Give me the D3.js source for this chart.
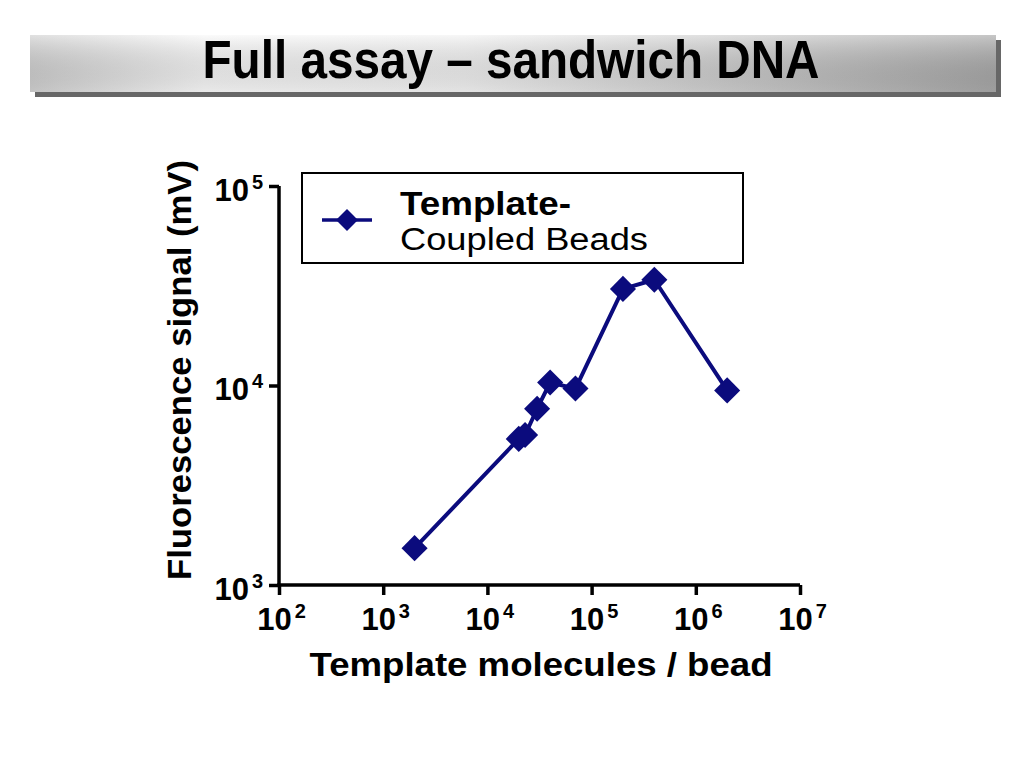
<!DOCTYPE html>
<html>
<head>
<meta charset="utf-8">
<script src="https://cdn.jsdelivr.net/npm/d3@7/dist/d3.min.js"></script>
<style>
html,body{margin:0;padding:0;background:#fff;}
svg{display:block;}
</style>
</head>
<body>
<svg id="chart" width="1024" height="768"></svg>
<script>
const title = "Full assay – sandwich DNA";
const seriesName = ["Template-", "Coupled Beads"];
const xValues = [2000, 20000, 23000, 30000, 40000, 70000, 200000, 400000, 2000000];
const yValues = [1530, 5400, 5650, 7650, 10350, 9650, 30500, 33900, 9450];
const xTicks = [1e2, 1e3, 1e4, 1e5, 1e6, 1e7];
const yTicks = [1e3, 1e4, 1e5];
const xTitle = "Template molecules / bead";
const yTitle = "Fluorescence signal (mV)";

const svg = d3.select("#chart");
const navy = "#0b0b7d";

// title banner
const defs = svg.append("defs");
const g1 = defs.append("linearGradient").attr("id","banner").attr("x1","0").attr("x2","1").attr("y1","0").attr("y2","0");
g1.append("stop").attr("offset","0%").attr("stop-color","#d0d0d0");
g1.append("stop").attr("offset","18%").attr("stop-color","#f8f8f8");
g1.append("stop").attr("offset","45%").attr("stop-color","#f2f2f2");
g1.append("stop").attr("offset","100%").attr("stop-color","#a8a8a8");
const g2 = defs.append("linearGradient").attr("id","bannerV").attr("x1","0").attr("x2","0").attr("y1","0").attr("y2","1");
g2.append("stop").attr("offset","0%").attr("stop-color","#ffffff").attr("stop-opacity",0.35);
g2.append("stop").attr("offset","100%").attr("stop-color","#000000").attr("stop-opacity",0.06);

svg.append("rect").attr("x",35).attr("y",40).attr("width",966).attr("height",57).attr("fill","#676767");
svg.append("rect").attr("x",30).attr("y",35).attr("width",966).attr("height",57).attr("fill","url(#banner)");
svg.append("rect").attr("x",30).attr("y",35).attr("width",966).attr("height",57).attr("fill","url(#bannerV)");
svg.append("text").attr("x",511).attr("y",78).attr("text-anchor","middle")
  .attr("font-family","'Liberation Sans Narrow','Liberation Sans',Arial,sans-serif")
  .attr("font-weight","bold").attr("font-size",53)
  .attr("textLength",617).attr("lengthAdjust","spacingAndGlyphs")
  .attr("fill","#000").text(title);

// scales
const x = d3.scaleLog().domain([1e2,1e7]).range([279,800]);
const y = d3.scaleLog().domain([1e3,1e5]).range([585,186]);

const font = "'Liberation Sans',Arial,sans-serif";

// axes
const xAxis = svg.append("g").attr("transform","translate(0,585)")
  .call(d3.axisBottom(x).tickValues(xTicks).tickSize(10).tickFormat(""));
const yAxis = svg.append("g").attr("transform","translate(279,0)")
  .call(d3.axisLeft(y).tickValues(yTicks).tickSize(10).tickFormat(""));
[xAxis,yAxis].forEach(a=>{
  a.select(".domain").attr("stroke","#000").attr("stroke-width",3.5);
  a.selectAll(".tick line").attr("stroke","#000").attr("stroke-width",3.5);
});
xAxis.select(".domain").attr("d", `M${x(1e2)-1.75},0H${x(1e7)}`);
yAxis.select(".domain").attr("d", `M0,${y(1e5)}V${y(1e3)+1.75}`);

function sup(sel, v){
  const e = Math.round(Math.log10(v));
  sel.append("tspan").text("10");
  sel.append("tspan").attr("font-size",20).attr("dy",-12).attr("dx",3).text(e);
}
xAxis.selectAll(".tick").each(function(d){
  const t = d3.select(this).append("text").attr("x",2).attr("y",45)
    .attr("text-anchor","middle").attr("fill","#000")
    .attr("font-family",font).attr("font-weight","bold").attr("font-size",31);
  sup(t,d);
});
yAxis.selectAll(".tick").each(function(d){
  const t = d3.select(this).append("text").attr("x",-16).attr("y",14)
    .attr("text-anchor","end").attr("fill","#000")
    .attr("font-family",font).attr("font-weight","bold").attr("font-size",31);
  sup(t,d);
});

// axis titles
svg.append("text").attr("x",541).attr("y",676).attr("text-anchor","middle")
  .attr("font-family",font).attr("font-weight","bold").attr("font-size",33)
  .attr("textLength",463).attr("lengthAdjust","spacingAndGlyphs").text(xTitle);
svg.append("text").attr("transform","translate(191,370) rotate(-90)").attr("text-anchor","middle")
  .attr("font-family",font).attr("font-weight","bold").attr("font-size",34)
  .attr("textLength",420).attr("lengthAdjust","spacingAndGlyphs").text(yTitle);

// data
const pts = xValues.map((v,i)=>[v,yValues[i]]);
svg.append("path").datum(pts)
  .attr("d", d3.line().x(d=>x(d[0])).y(d=>y(d[1])))
  .attr("fill","none").attr("stroke",navy).attr("stroke-width",4).attr("stroke-linejoin","round");
const diamond = d3.symbol().type(d3.symbolSquare).size(340);
svg.selectAll(".pt").data(pts).enter().append("path").attr("class","pt")
  .attr("d", diamond)
  .attr("transform", d=>`translate(${x(d[0])},${y(d[1])}) rotate(45)`)
  .attr("fill",navy);

// legend
const lg = svg.append("g");
lg.append("rect").attr("x",302).attr("y",173).attr("width",441).attr("height",90)
  .attr("fill","#fff").attr("stroke","#000").attr("stroke-width",2);
lg.append("line").attr("x1",322).attr("x2",372).attr("y1",220).attr("y2",220)
  .attr("stroke",navy).attr("stroke-width",3.5);
lg.append("path").attr("d", d3.symbol().type(d3.symbolSquare).size(240))
  .attr("transform","translate(347,220) rotate(45)").attr("fill",navy);
lg.append("text").attr("x",400).attr("y",215).attr("font-family",font)
  .attr("font-weight","bold").attr("font-size",34)
  .attr("textLength",171).attr("lengthAdjust","spacingAndGlyphs").text(seriesName[0]);
lg.append("text").attr("x",400).attr("y",250).attr("font-family",font)
  .attr("font-size",31)
  .attr("textLength",248).attr("lengthAdjust","spacingAndGlyphs").text(seriesName[1]);
</script>
</body>
</html>
